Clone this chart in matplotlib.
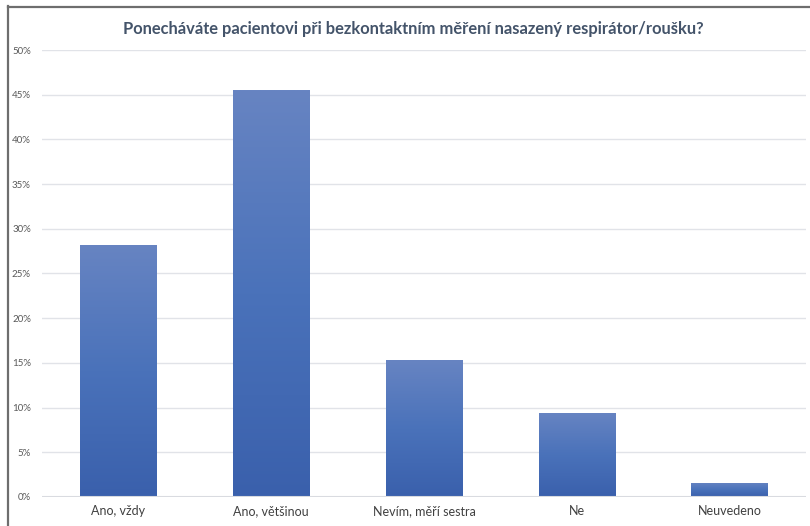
import matplotlib
matplotlib.use("Agg")
import matplotlib.pyplot as plt
import numpy as np
from matplotlib.lines import Line2D
from matplotlib.colors import LinearSegmentedColormap
from matplotlib.ticker import FuncFormatter, MultipleLocator

categories = ["Ano, vždy", "Ano, většinou", "Nevím, měří sestra", "Ne", "Neuvedeno"]
values = [0.282, 0.455, 0.153, 0.094, 0.016]
title = "Ponecháváte pacientovi při bezkontaktním měření nasazený respirátor/roušku?"

plt.rcParams['font.family'] = ['Lato', 'DejaVu Sans']

fig = plt.figure(figsize=(8.10, 5.26), dpi=100)
ax = fig.add_axes([42/810, 29/526, (806-42)/810, (476-29)/526])

cmap = LinearSegmentedColormap.from_list("g", ["#3a60ac", "#4a72ba", "#6784c2"])
grad = np.linspace(0, 1, 256).reshape(-1, 1)
x = np.arange(len(categories))
bars = ax.bar(x, values, width=0.5, color="none", edgecolor="none", zorder=3)
for b in bars:
    x0, y0 = b.get_x(), b.get_y()
    w, h = b.get_width(), b.get_height()
    im = ax.imshow(grad, cmap=cmap, aspect="auto", origin="lower",
                   extent=[x0, x0 + w, y0, y0 + h], zorder=3)
    im.set_clip_path(b)
ax.set_xlim(-0.5, len(categories) - 0.5)
ax.set_ylim(0, 0.5)

ax.yaxis.set_major_locator(MultipleLocator(0.05))
ax.yaxis.set_major_formatter(FuncFormatter(lambda v, p: f"{v*100:.0f}%"))
ax.grid(axis="y", color="#e1e3e8", linewidth=1.0, zorder=0)
ax.axhline(0, color="#d9dbe0", linewidth=1.5, zorder=4)
ax.set_axisbelow(True)
for s in ax.spines.values():
    s.set_visible(False)
ax.tick_params(axis="y", length=0, labelsize=7, labelcolor="#595959", pad=8)
ax.tick_params(axis="x", length=0, labelsize=9, labelcolor="#404040", pad=6)
ax.set_xticks(x)
ax.set_xticklabels(categories)

fig.text(413/810, 1 - 29/526, title, ha="center", va="center",
         fontsize=11.9, fontweight="bold", color="#44546a")

# frame lines
fig.add_artist(Line2D([7.5/810, 7.5/810], [0, 1 - 6/526], transform=fig.transFigure,
                      color="#6e6e6e", linewidth=1.6))
fig.add_artist(Line2D([7.5/810, 1], [1 - 6.5/526, 1 - 6.5/526], transform=fig.transFigure,
                      color="#6e6e6e", linewidth=1.6))

fig.savefig("out.png", dpi=100)
